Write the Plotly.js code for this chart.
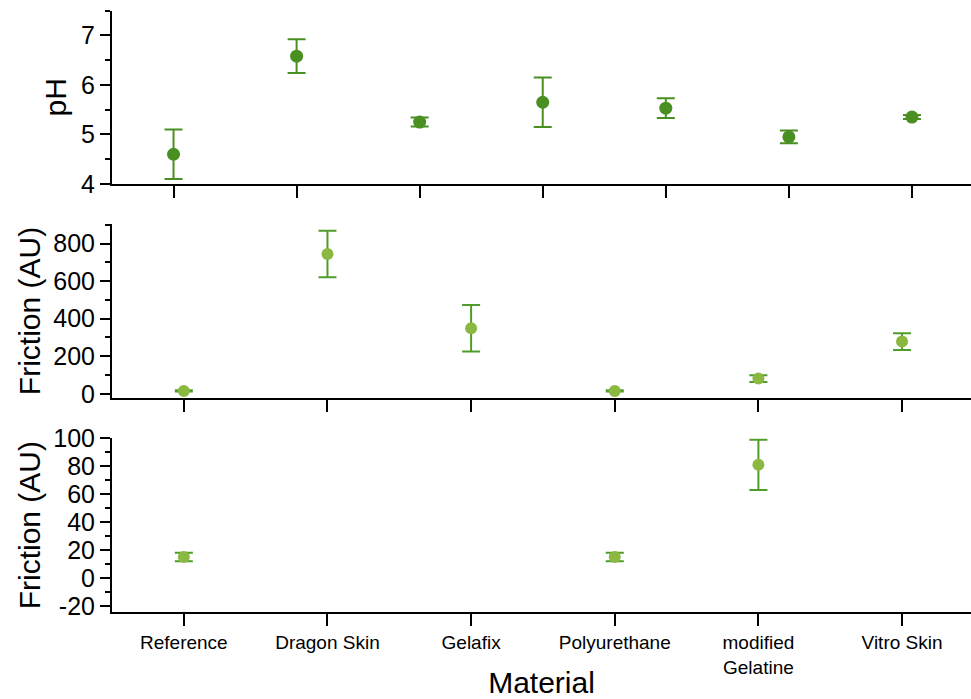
<!DOCTYPE html>
<html>
<head>
<meta charset="utf-8">
<script src="https://cdn.plot.ly/plotly-3.0.1.min.js"></script>
<style>html,body{margin:0;padding:0;background:#fff;}#chart{width:971px;height:699px;}</style>
</head>
<body>
<div id="chart"></div>
<script>
// pH panel (7 samples, no tick labels in the original)
const phSamples = ["S1", "S2", "S3", "S4", "S5", "S6", "S7"];
const phValues = [4.60, 6.58, 5.25, 5.65, 5.53, 4.95, 5.35];
const phErrors = [0.50, 0.34, 0.09, 0.50, 0.20, 0.13, 0.04];

// Friction panels
const materials = ["Reference", "Dragon Skin", "Gelafix", "Polyurethane", "modified<br>Gelatine", "Vitro Skin"];
const frictionValues = [15, 745, 349, 15, 81, 278];
const frictionErrors = [3, 124, 124, 3, 18, 45];

// Zoomed friction panel tick labels (hyphen minus as in original)
const zoomTickVals = [-20, 0, 20, 40, 60, 80, 100];
const zoomTickText = ["-20", "0", "20", "40", "60", "80", "100"];

const darkGreen = "#4a8f22";
const lightGreen = "#8ab840";
const barGreen = "#4f9c2a";
const font = "Liberation Sans, Arial, sans-serif";

const traces = [
  {
    x: phSamples, y: phValues, type: "scatter", mode: "markers",
    xaxis: "x", yaxis: "y",
    marker: {color: darkGreen, size: 13},
    error_y: {type: "data", array: phErrors, visible: true, color: darkGreen, thickness: 2, width: 9},
    cliponaxis: true
  },
  {
    x: materials, y: frictionValues, type: "scatter", mode: "markers",
    xaxis: "x2", yaxis: "y2",
    marker: {color: lightGreen, size: 12},
    error_y: {type: "data", array: frictionErrors, visible: true, color: barGreen, thickness: 2, width: 9},
    cliponaxis: true
  },
  {
    x: materials, y: frictionValues, type: "scatter", mode: "markers",
    xaxis: "x3", yaxis: "y3",
    marker: {color: lightGreen, size: 12},
    error_y: {type: "data", array: frictionErrors, visible: true, color: barGreen, thickness: 2, width: 9},
    cliponaxis: true
  }
];

function xax(anchor, labels, range) {
  return {
    anchor: anchor, domain: [0, 1], type: "category",
    range: range,
    showline: true, linecolor: "#000", linewidth: 2,
    ticks: "outside", ticklen: 12, tickwidth: 2, tickcolor: "#000",
    showgrid: false, zeroline: false,
    showticklabels: !!labels,
    tickfont: {family: font, size: 19, color: "#000"},
    fixedrange: true
  };
}
function yax(anchor, domain, range, dtick, minor, title, standoff) {
  return {
    anchor: anchor, domain: domain, range: range, dtick: dtick,
    showline: true, linecolor: "#000", linewidth: 2,
    ticks: "outside", ticklen: 10, tickwidth: 2, tickcolor: "#000",
    minor: {dtick: minor, ticks: "outside", ticklen: 5, tickwidth: 2, tickcolor: "#000", showgrid: false},
    showgrid: false, zeroline: false,
    tickfont: {family: font, size: 25, color: "#000"},
    title: {text: title, font: {family: font, size: 30, color: "#000"}, standoff: standoff},
    fixedrange: true
  };
}

const x1 = xax("y", false, [-0.5, 6.48]);
const x2 = xax("y2", false, [-0.5, 5.48]);
const x3 = xax("y3", true, [-0.5, 5.48]);
x3.title = {text: "Material", font: {family: font, size: 30, color: "#000"}, standoff: 4};

const y3 = yax("x3", [0.0, 0.2885], [-24.4, 100], 20, 10, "Friction (AU)", 4);
y3.tickmode = "array";
y3.tickvals = zoomTickVals;
y3.ticktext = zoomTickText;

const layout = {
  width: 971, height: 699,
  margin: {l: 112, r: 0, t: 10, b: 87},
  paper_bgcolor: "#fff", plot_bgcolor: "#fff",
  showlegend: false,
  font: {family: font, color: "#000"},
  xaxis: x1,
  yaxis: yax("x", [0.711, 0.999], [4, 7.5], 1, 0.5, "pH", 6),
  xaxis2: x2,
  yaxis2: yax("x2", [0.356, 0.644], [-21, 903], 200, 100, "Friction (AU)", 4),
  xaxis3: x3,
  yaxis3: y3
};

Plotly.newPlot("chart", traces, layout, {displayModeBar: false, staticPlot: true});
</script>
</body>
</html>
